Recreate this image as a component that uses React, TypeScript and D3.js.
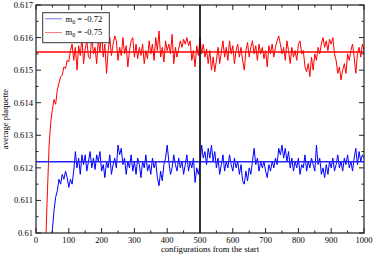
import React from "react";
import * as d3 from "d3";

// configuration index of the first point, sampled every 5 configurations
const redStart = 30;
const blueStart = 45;
const sampleStep = 5;

const redValues = [
  0.6098, 0.6113, 0.6127, 0.6134, 0.6138, 0.6141, 0.61395, 0.6144, 0.6146, 0.6148,
  0.61485, 0.6151, 0.61505, 0.6153, 0.61525, 0.6156, 0.6158, 0.6153, 0.6157, 0.615,
  0.61575, 0.61545, 0.616, 0.6152, 0.61565, 0.6159, 0.6154, 0.61535, 0.6161, 0.6155,
  0.6157, 0.6152, 0.61595, 0.61555, 0.6162, 0.6154, 0.6158, 0.6149, 0.6156, 0.616,
  0.61545, 0.6158, 0.61605, 0.6159, 0.6153, 0.6157, 0.61545, 0.616, 0.6155, 0.61575,
  0.6151, 0.6156, 0.6159, 0.616, 0.6154, 0.6158, 0.61535, 0.6157, 0.61545, 0.6158,
  0.6152, 0.6156, 0.61535, 0.6159, 0.6155, 0.6158, 0.6153, 0.616, 0.6156, 0.6162,
  0.6154, 0.6157, 0.61525, 0.6159, 0.6156, 0.6158, 0.6155, 0.6161, 0.6152, 0.6157,
  0.6154, 0.61565, 0.6159, 0.6157, 0.61595, 0.6158, 0.616, 0.61575, 0.6159, 0.6153,
  0.6156, 0.6151, 0.61575, 0.61545, 0.616, 0.6155, 0.6158, 0.6154, 0.61565, 0.6152,
  0.6156, 0.615, 0.6154, 0.61495, 0.6153, 0.6157, 0.6152, 0.61555, 0.6159, 0.6154,
  0.6157, 0.6153, 0.6159, 0.6155, 0.61575, 0.6152, 0.6156, 0.6158, 0.6154, 0.6157,
  0.6153, 0.615, 0.6156, 0.61585, 0.6154, 0.6157, 0.6159, 0.6155, 0.61575, 0.6153,
  0.6158, 0.6155, 0.6157, 0.61535, 0.6156, 0.6151, 0.61575, 0.6155, 0.6158, 0.6154,
  0.6157, 0.6159, 0.61605, 0.6158, 0.6155, 0.6157, 0.6153, 0.6159, 0.6156, 0.6152,
  0.6157, 0.6154, 0.6156, 0.6153, 0.6158, 0.6159, 0.6155, 0.6156, 0.6151, 0.61495,
  0.6152, 0.6148, 0.6154, 0.615, 0.6155, 0.6153, 0.6157, 0.6155, 0.6158, 0.616,
  0.6157, 0.6159, 0.6156, 0.61595, 0.6158, 0.616, 0.6155, 0.6153, 0.6149, 0.6151,
  0.6147, 0.615, 0.6152, 0.6149, 0.6155, 0.6153, 0.6156, 0.6158, 0.6154, 0.6149,
  0.6155, 0.6157, 0.6154, 0.6158, 0.6156,
];

const blueValues = [
  0.6096, 0.6101, 0.6107, 0.6111, 0.6113, 0.61165, 0.6115, 0.6118, 0.61165, 0.6119,
  0.6117, 0.6114, 0.61165, 0.6115, 0.6119, 0.6125, 0.612, 0.6123, 0.6118, 0.6124,
  0.6121, 0.6124, 0.6119, 0.6122, 0.6125, 0.612, 0.6123, 0.61195, 0.6124, 0.6122,
  0.6125, 0.6119, 0.6121, 0.6117, 0.6122, 0.612, 0.6124, 0.6118, 0.6121, 0.6123,
  0.612, 0.6127, 0.6124, 0.6126, 0.6121, 0.6123, 0.6118, 0.6122, 0.612, 0.6124,
  0.6119, 0.6122, 0.6118, 0.6123, 0.6121, 0.6117, 0.6122, 0.612, 0.6124, 0.6119,
  0.6121, 0.6118, 0.6123, 0.612, 0.6122, 0.6117, 0.61145, 0.6119, 0.6116, 0.6121,
  0.6123, 0.6127, 0.6122, 0.6118, 0.612, 0.6124, 0.6121, 0.6119, 0.6123, 0.612,
  0.6122, 0.6118, 0.6121, 0.6124, 0.6119, 0.6122, 0.612, 0.6123, 0.61155, 0.612,
  0.6118, 0.6121, 0.6127, 0.6123, 0.6125, 0.6121, 0.6126, 0.6123, 0.6127, 0.6122,
  0.6125, 0.612, 0.6123, 0.6118, 0.6121, 0.6124, 0.6119, 0.6122, 0.612, 0.6124,
  0.6121, 0.6119, 0.6123, 0.612, 0.6122, 0.6118, 0.6121, 0.6116, 0.6115, 0.6119,
  0.6116, 0.612, 0.6118, 0.6122, 0.6126, 0.6121, 0.6123, 0.6119, 0.6122, 0.612,
  0.6122, 0.6119, 0.6117, 0.6121, 0.6119, 0.6122, 0.612, 0.6123, 0.6121, 0.6126,
  0.6124, 0.6127, 0.6123, 0.6126, 0.6122, 0.6125, 0.612, 0.6123, 0.6119, 0.6122,
  0.612, 0.6123, 0.6118, 0.6121, 0.612, 0.6124, 0.6119, 0.6122, 0.612, 0.6123,
  0.6121, 0.6119, 0.6127, 0.6121, 0.6123, 0.6118, 0.612, 0.6117, 0.6121, 0.6118,
  0.6122, 0.612, 0.6123, 0.6119, 0.6121, 0.6124, 0.612, 0.6122, 0.6119, 0.6123,
  0.6121, 0.6124, 0.612, 0.6122, 0.6119, 0.6123, 0.6126, 0.6121, 0.6125, 0.6122,
  0.6124, 0.6123,
];

const redMean = 0.61556;
const blueMean = 0.61219;
const markerConfig = 500;

const xTicks = [0, 100, 200, 300, 400, 500, 600, 700, 800, 900, 1000];
const xMinorTicks = [50, 150, 250, 350, 450, 550, 650, 750, 850, 950];
const yTicks = [0.61, 0.611, 0.612, 0.613, 0.614, 0.615, 0.616, 0.617];
const yTickLabels = ["0.61", "0.611", "0.612", "0.613", "0.614", "0.615", "0.616", "0.617"];
const yMinorTicks = [0.6105, 0.6115, 0.6125, 0.6135, 0.6145, 0.6155, 0.6165];

const legendNames = ["-0.72", "-0.75"];
const seriesColors = ["#0000ff", "#ff0000"];
const xTitle = "configurations from the start";
const yTitle = "average plaquette";

export default function App() {
  const W = 374;
  const H = 256;
  const L = 36, R = 364, T = 5, B = 233;
  const font = "'Liberation Serif', 'Times New Roman', serif";
  const fs = 8.6;

  const x = d3.scaleLinear().domain([0, 1000]).range([L, R]);
  const y = d3.scaleLinear().domain([0.61, 0.617]).range([B, T]);

  const line = d3
    .line<[number, number]>()
    .x((d) => x(d[0]))
    .y((d) => y(d[1]));

  const redPts: [number, number][] = redValues.map((v, i) => [redStart + i * sampleStep, v]);
  const bluePts: [number, number][] = blueValues.map((v, i) => [blueStart + i * sampleStep, v]);

  const majLen = 5;
  const minLen = 2.5;

  return (
    <svg
      width={W}
      height={H}
      style={{ position: "absolute", left: 0, top: 0, background: "#fff" }}
      fontFamily={font}
    >
      <defs>
        <clipPath id="plotclip">
          <rect x={L} y={T} width={R - L} height={B - T} />
        </clipPath>
      </defs>
      <rect x={0} y={0} width={W} height={H} fill="#fff" />

      <g clipPath="url(#plotclip)">
        <path d={line(bluePts) || ""} fill="none" stroke={seriesColors[0]} strokeWidth={1} />
        <path d={line(redPts) || ""} fill="none" stroke={seriesColors[1]} strokeWidth={1} />
        <line x1={L} x2={R} y1={y(redMean)} y2={y(redMean)} stroke="#ff0000" strokeWidth={1.5} />
        <line x1={L} x2={R} y1={y(blueMean)} y2={y(blueMean)} stroke="#2222ff" strokeWidth={1.5} />
        <line x1={x(markerConfig)} x2={x(markerConfig)} y1={T} y2={B} stroke="#000" strokeWidth={1.6} />
      </g>

      {/* frame */}
      <rect x={L} y={T} width={R - L} height={B - T} fill="none" stroke="#222" strokeWidth={1.2} />

      {/* x ticks */}
      {xTicks.map((t) => (
        <g key={"xt" + t}>
          <line x1={x(t)} x2={x(t)} y1={B} y2={B - majLen} stroke="#222" strokeWidth={1} />
          <line x1={x(t)} x2={x(t)} y1={T} y2={T + majLen} stroke="#222" strokeWidth={1} />
          <text x={x(t)} y={243} fontSize={fs} textAnchor="middle" fill="#000">
            {t}
          </text>
        </g>
      ))}
      {xMinorTicks.map((t) => (
        <g key={"xm" + t}>
          <line x1={x(t)} x2={x(t)} y1={B} y2={B - minLen} stroke="#222" strokeWidth={1} />
          <line x1={x(t)} x2={x(t)} y1={T} y2={T + minLen} stroke="#222" strokeWidth={1} />
        </g>
      ))}

      {/* y ticks */}
      {yTicks.map((t, i) => (
        <g key={"yt" + t}>
          <line x1={L} x2={L + majLen} y1={y(t)} y2={y(t)} stroke="#222" strokeWidth={1} />
          <line x1={R} x2={R - majLen} y1={y(t)} y2={y(t)} stroke="#222" strokeWidth={1} />
          <text x={33} y={y(t) + 3} fontSize={fs} textAnchor="end" fill="#000">
            {yTickLabels[i]}
          </text>
        </g>
      ))}
      {yMinorTicks.map((t) => (
        <g key={"ym" + t}>
          <line x1={L} x2={L + minLen} y1={y(t)} y2={y(t)} stroke="#222" strokeWidth={1} />
          <line x1={R} x2={R - minLen} y1={y(t)} y2={y(t)} stroke="#222" strokeWidth={1} />
        </g>
      ))}

      {/* axis titles */}
      <text x={210} y={252} fontSize={fs} textAnchor="middle" fill="#000">
        {xTitle}
      </text>
      <text
        transform={`translate(7.5, ${(T + B) / 2}) rotate(-90)`}
        fontSize={fs}
        textAnchor="middle"
        fill="#000"
      >
        {yTitle}
      </text>

      {/* legend */}
      <rect x={42.7} y={12.7} width={66.6} height={30} fill="#fff" stroke="#333" strokeWidth={1} />
      {legendNames.map((name, i) => {
        const ly = 18.8 + i * 13.8;
        return (
          <g key={"lg" + i}>
            <line x1={45} x2={62} y1={ly} y2={ly} stroke={seriesColors[i]} strokeOpacity={0.55} strokeWidth={1} />
            <text x={65.5} y={ly + 2.8} fontSize={fs} fill="#000">
              m
              <tspan fontSize={6} dy={2}>0</tspan>
              <tspan dy={-2}>{" = " + name}</tspan>
            </text>
          </g>
        );
      })}
    </svg>
  );
}
